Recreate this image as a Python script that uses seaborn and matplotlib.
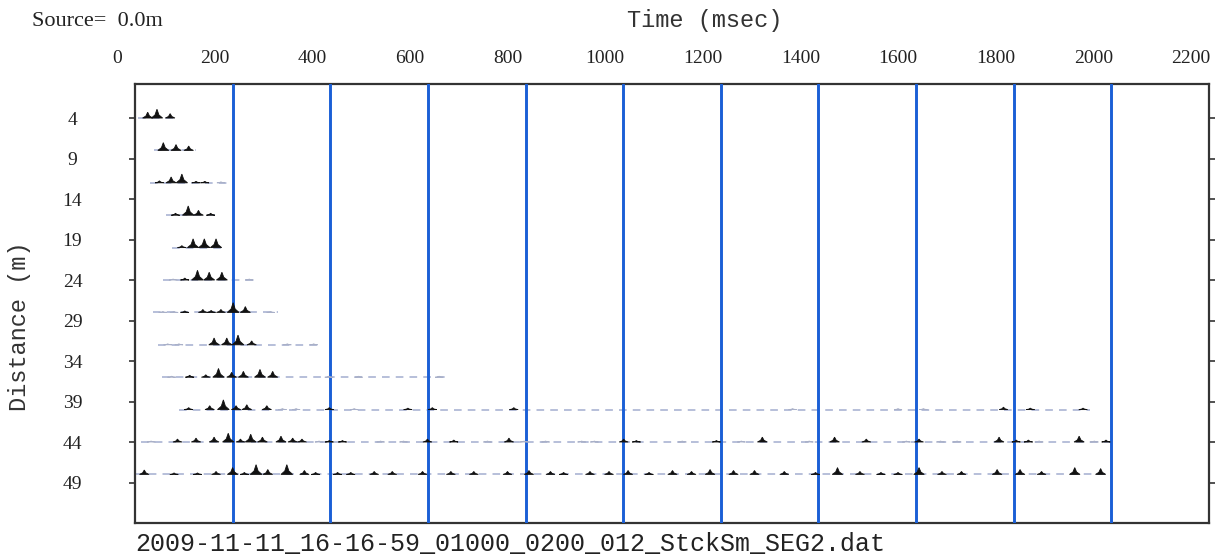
import matplotlib
matplotlib.use("Agg")
import matplotlib.pyplot as plt
import matplotlib.transforms as mtransforms
import numpy as np
import pandas as pd
import seaborn as sns

# ---------------- data ----------------
trace_dist = [4, 8, 12, 16, 20, 24, 28, 32, 36, 40, 44, 48]

t04 = [26, 45, 72];              a04 = [0.6, 0.9, 0.45]
t08 = [58, 84, 110];             a08 = [0.8, 0.6, 0.45]
t12 = [50, 74, 96, 125, 143, 176]
a12 = [0.2, 0.6, 0.9, 0.15, 0.15, 0.05]
t16 = [83, 109, 130, 155];       a16 = [0.2, 0.95, 0.5, 0.2]
t20 = [96, 119, 142, 166];       a20 = [0.2, 0.9, 0.9, 0.9]
t24 = [78, 102, 128, 152, 178, 234]
a24 = [0.1, 0.2, 1.0, 0.8, 0.8, 0.1]
t28 = [57, 80, 102, 139, 156, 176, 201, 226, 278]
a28 = [0.1, 0.1, 0.15, 0.3, 0.2, 0.3, 1.0, 0.6, 0.05]
t32 = [67, 90, 162, 188, 211, 239, 312, 366]
a32 = [0.1, 0.1, 0.7, 0.7, 1.0, 0.4, 0.05, 0.05]
t36 = [75, 112, 145, 171, 198, 222, 256, 282, 397, 458, 623]
a36 = [0.1, 0.2, 0.25, 0.9, 0.5, 0.6, 0.8, 0.6, 0.05, 0.05, 0.05]
t40 = [110, 153, 181, 207, 229, 270, 302, 330, 398, 449, 559, 609, 776,
       1347, 1563, 1615, 1779, 1834, 1942]
a40 = [0.2, 0.4, 1.0, 0.4, 0.5, 0.4, 0.1, 0.05, 0.2, 0.05, 0.15, 0.2, 0.2,
       0.05, 0.05, 0.05, 0.25, 0.15, 0.15]
t44 = [33, 87, 125, 162, 191, 216, 237, 261, 299, 323, 342, 377, 398, 425,
       503, 550, 599, 653, 722, 766, 797, 841, 915, 941, 1001, 1027, 1121,
       1191, 1242, 1285, 1381, 1433, 1498, 1580, 1606, 1650, 1684, 1770,
       1805, 1830, 1852, 1934, 1965, 1989]
a44 = [0.1, 0.3, 0.4, 0.5, 0.9, 0.3, 0.8, 0.5, 0.6, 0.4, 0.3, 0.1, 0.15, 0.15,
       0.05, 0.05, 0.3, 0.2, 0.1, 0.4, 0.1, 0.1, 0.1, 0.1, 0.3, 0.15, 0.1,
       0.15, 0.1, 0.5, 0.1, 0.5, 0.3, 0.1, 0.3, 0.1, 0.1, 0.5,
       0.2, 0.2, 0.1, 0.6, 0.1, 0.2]
t48 = [19, 80, 128, 166, 200, 224, 248, 272, 311, 347, 370, 415, 442, 490,
       527, 589, 647, 694, 763, 807, 851, 878, 932, 971, 1010, 1053, 1101,
       1140, 1178, 1226, 1269, 1330, 1394, 1439, 1485, 1528, 1563, 1606,
       1653, 1693, 1766, 1813, 1857, 1925, 1978]
a48 = [0.45, 0.15, 0.15, 0.3, 0.7, 0.2, 1.0, 0.5, 1.0, 0.4, 0.2, 0.2, 0.2, 0.3,
       0.3, 0.3, 0.3, 0.3, 0.3, 0.4, 0.3, 0.2, 0.3, 0.3, 0.4, 0.2, 0.4,
       0.3, 0.5, 0.4, 0.4, 0.3, 0.2, 0.7, 0.3, 0.2, 0.2, 0.7,
       0.3, 0.3, 0.5, 0.5, 0.3, 0.7, 0.6]

event_times = [t04, t08, t12, t16, t20, t24, t28, t32, t36, t40, t44, t48]
event_amps = [a04, a08, a12, a16, a20, a24, a28, a32, a36, a40, a44, a48]

time_ticks = [0, 200, 400, 600, 800, 1000, 1200, 1400, 1600, 1800, 2000, 2200]
grid_times = [200, 400, 600, 800, 1000, 1200, 1400, 1600, 1800, 2000]
dist_ticks = [4, 9, 14, 19, 24, 29, 34, 39, 44, 49]

file_name = "2009-11-11_16-16-59_01000_0200_012_StckSm_SEG2.dat"

# ---------------- figure ----------------
sns.set_style("white")
W, H = 1219, 555
fig = plt.figure(figsize=(W / 100, H / 100), dpi=100)
ax = fig.add_axes([135 / W, 1 - 523 / H, (1209 - 135) / W, (523 - 84) / H])

# trace baselines (faint dashed)
rows = []
for d, ts in zip(trace_dist, event_times):
    rows.append({"trace": d, "time": max(0, min(ts) - 20), "dist": d})
    rows.append({"trace": d, "time": max(ts) + 15, "dist": d})
base_df = pd.DataFrame(rows)
sns.lineplot(data=base_df, x="time", y="dist", units="trace", estimator=None,
             color="#a3adcf", lw=1.1, linestyle=(0, (5, 4)), ax=ax, zorder=2,
             legend=False)

# blue timing lines
for g in grid_times:
    ax.axvline(g, color="#1a5fd6", lw=2.1, zorder=3)

# wiggle peaks (variable-area fill)
half_w = 10.0
amp_scale = 1.2
for d, ts, amps in zip(trace_dist, event_times, event_amps):
    for t, a in zip(ts, amps):
        hgt = max(a * amp_scale, 0.12)
        col = "#111111" if a >= 0.12 else "#a9b0c8"
        hw = half_w * (0.8 + 0.4 * a)
        ax.fill([t - hw, t - hw * 0.35, t, t + hw * 0.35, t + hw],
                [d, d - hgt * 0.35, d - hgt, d - hgt * 0.35, d],
                color=col, lw=0.6, ec=col, zorder=4)

ax.set_xlim(0, 2200)
ax.set_ylim(54.0, -0.2)
ax.set_xlabel("")
ax.set_ylabel("")

ax.xaxis.tick_top()
ax.set_xticks(time_ticks)
ax.set_xticklabels([str(v) for v in time_ticks], family="Liberation Serif",
                   fontsize=14, color="#222222")
ax.tick_params(axis="x", top=True, bottom=False, length=0, pad=12)
offset = mtransforms.ScaledTranslation(-18 / 100, 0, fig.dpi_scale_trans)
for lab in ax.get_xticklabels():
    lab.set_transform(lab.get_transform() + offset)

ax.set_yticks(dist_ticks)
ax.set_yticklabels([str(v) for v in dist_ticks], family="Liberation Serif",
                   fontsize=14, color="#222222", ha="center")
ax.tick_params(axis="y", left=True, right=True, direction="out", length=4,
               width=1.2, color="#333333", pad=41)

for s in ax.spines.values():
    s.set_visible(True)
    s.set_color("#333333")
    s.set_linewidth(1.6)

# texts
fig.text(32 / W, 1 - 21 / H, "Source=  0.0m", family="Liberation Serif",
         fontsize=16, color="#222222", ha="left", va="center")
fig.text(705 / W, 1 - 20 / H, "Time (msec)", family="Liberation Mono",
         fontsize=17, color="#333333", ha="center", va="center")
fig.text(20 / W, 1 - 326 / H, "Distance (m)", family="Liberation Mono",
         fontsize=17, color="#333333", ha="center", va="center", rotation=90)
fig.text(135 / W, 1 - 544 / H, file_name, family="Liberation Mono",
         fontsize=18, color="#222222", ha="left", va="center")

fig.savefig("out.png", dpi=100, facecolor="white")
